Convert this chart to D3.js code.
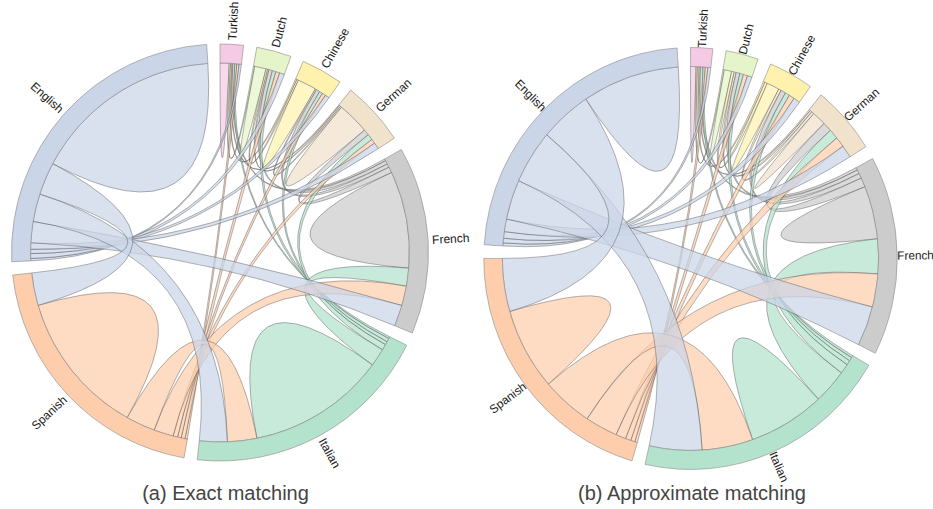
<!DOCTYPE html>
<html>
<head>
<meta charset="utf-8">
<script src="https://cdn.jsdelivr.net/npm/d3@7"></script>
<style>
  body { margin: 0; background: #fff; }
  svg { display: block; font-family: "Liberation Sans", Arial, Helvetica, sans-serif; }
</style>
</head>
<body>
<svg id="chart" width="933" height="509"></svg>
<script>
// Languages, in the order they appear clockwise from the top
const languages = ["Turkish", "Dutch", "Chinese", "German", "French", "Italian", "Spanish", "English"];

// Symmetric match counts between languages (diagonal = matches within a language)
const exactMatrix = [
  [ 28,   4,   4,   3,   6,   6,   7,   7],
  [  4,  35,   5,   4,  11,  11,  12,  15],
  [  4,   5,  58,   4,  11,  10,  11,  13],
  [  3,   4,   4,  98,  18,  18,  14,  20],
  [  6,  11,  11,  18, 297,  55,  60,  65],
  [  6,  11,  10,  18,  55, 423,  90,  85],
  [  7,  12,  11,  14,  60,  90, 444, 100],
  [  7,  15,  13,  20,  65,  85, 100, 583]
];

const approxMatrix = [
  [ 17,   4,   5,   4,   8,   7,   8,   9],
  [  4,  23,   8,   6,  12,  11,  13,  14],
  [  5,   8,  39,   8,  15,  14,  17,  20],
  [  4,   6,   8,  43,  28,  30,  31,  38],
  [  8,  12,  15,  28, 160, 105, 100, 120],
  [  7,  11,  14,  30, 105, 235, 157, 162],
  [  8,  13,  17,  31, 100, 157, 248, 160],
  [  9,  14,  20,  38, 120, 162, 160, 300]
];

const panelTitles = ["(a) Exact matching", "(b) Approximate matching"];

// Pastel palette, one colour per language
const palette = ["#f4cae4", "#e6f5c9", "#fff2ae", "#f1e2cc", "#cccccc", "#b3e2cd", "#fdcdac", "#cbd5e8"];
const color = d3.scaleOrdinal().domain(d3.range(languages.length)).range(palette);

const svg = d3.select("#chart");

function drawPanel(matrix, opt) {
  const chords = d3.chord().padAngle(opt.pad)(matrix);

  const g = svg.append("g")
    .attr("transform", `translate(${opt.cx},${opt.cy}) scale(${opt.sx},1)`);

  const ribbon = d3.ribbon().radius(opt.inner);
  const arc = d3.arc().innerRadius(opt.inner).outerRadius(opt.outer);

  // Ribbons take the colour of the later language in the ring order
  g.append("g")
    .selectAll("path")
    .data(chords)
    .join("path")
    .attr("d", ribbon)
    .attr("fill", d => color(Math.max(d.source.index, d.target.index)))
    .attr("fill-opacity", 0.72)
    .attr("stroke", "#404040")
    .attr("stroke-opacity", 0.78)
    .attr("stroke-width", 0.5);

  // Outer ring segments
  const grp = g.append("g")
    .selectAll("g")
    .data(chords.groups)
    .join("g");

  grp.append("path")
    .attr("d", arc)
    .attr("fill", d => color(d.index))
    .attr("stroke", "#8a8a8a")
    .attr("stroke-width", 0.6);

  // Language labels, rotated to follow the ring
  grp.append("text")
    .each(d => { d.mid = (d.startAngle + d.endAngle) / 2; })
    .attr("dy", "0.35em")
    .attr("transform", d =>
      `rotate(${d.mid * 180 / Math.PI - 90}) translate(${opt.outer + opt.labelGap})` +
      (d.mid > Math.PI ? " rotate(180)" : ""))
    .attr("text-anchor", d => d.mid > Math.PI ? "end" : "start")
    .attr("font-size", 12)
    .attr("fill", "#1a1a1a")
    .text(d => languages[d.index]);

  svg.append("text")
    .attr("x", opt.titleX)
    .attr("y", 500)
    .attr("text-anchor", "middle")
    .attr("font-size", 20)
    .attr("fill", "#444")
    .text(opt.title);
}

drawPanel(exactMatrix, {
  cx: 220, cy: 252.5, sx: 1, inner: 189.5, outer: 208.5, pad: 0.064, labelGap: 4,
  title: panelTitles[0], titleX: 225.5
});

drawPanel(approxMatrix, {
  cx: 690.5, cy: 258.5, sx: 0.98, inner: 192, outer: 211, pad: 0.065, labelGap: 0,
  title: panelTitles[1], titleX: 692
});
</script>
</body>
</html>
